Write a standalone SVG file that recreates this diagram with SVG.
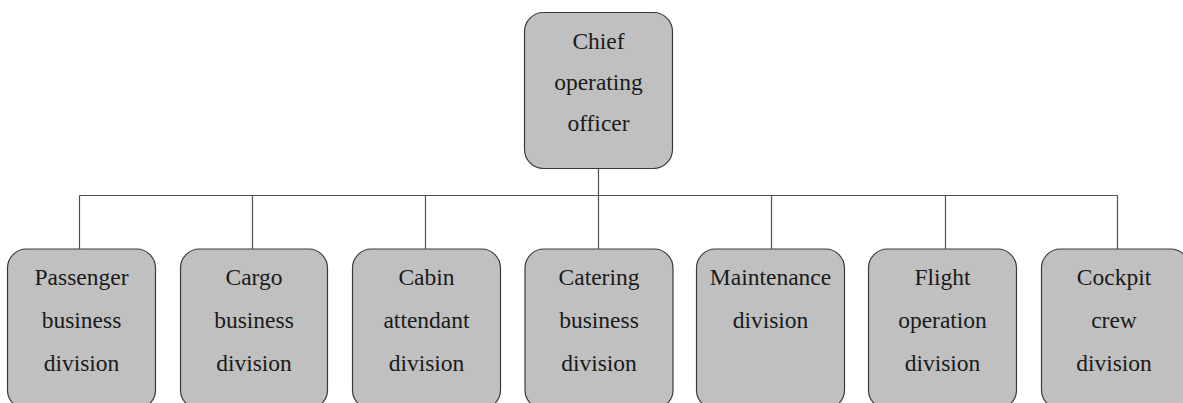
<svg xmlns="http://www.w3.org/2000/svg" width="1183" height="403" viewBox="0 0 1183 403">
  <style>
    .box { fill: #c0c0c0; stroke: #3a3a3a; stroke-width: 1.2; }
    .lbl { font-family: "Liberation Serif", "Times New Roman", serif; font-size: 23.5px; fill: #1a1a1a; text-anchor: middle; }
    .wire { fill: none; stroke: #505050; stroke-width: 1.2; }
  </style>
  <rect width="1183" height="403" fill="#ffffff"/>

  <!-- connectors: trunk from the top box, bus line, and drops to each division -->
  <g id="connectors">
    <path class="wire" d="M598.5 168.5 V195.5"/>
    <path class="wire" d="M79.5 195.5 H1117.5"/>
    <path class="wire" d="M79.5 195.5 V249"/>
    <path class="wire" d="M252.5 195.5 V249"/>
    <path class="wire" d="M425.5 195.5 V249"/>
    <path class="wire" d="M598.5 195.5 V249"/>
    <path class="wire" d="M771.5 195.5 V249"/>
    <path class="wire" d="M945.5 195.5 V249"/>
    <path class="wire" d="M1117.5 195.5 V249"/>
  </g>

  <g id="coo">
    <rect class="box" x="524.5" y="12.5" width="148" height="156" rx="19" ry="19"/>
    <text class="lbl" x="598.5" y="49">Chief</text>
    <text class="lbl" x="598.5" y="90">operating</text>
    <text class="lbl" x="598.5" y="131">officer</text>
  </g>

  <g id="passenger">
    <rect class="box" x="7.5" y="249" width="148" height="160" rx="19" ry="19"/>
    <text class="lbl" x="81.5" y="285">Passenger</text>
    <text class="lbl" x="81.5" y="328">business</text>
    <text class="lbl" x="81.5" y="371">division</text>
  </g>

  <g id="cargo">
    <rect class="box" x="180.5" y="249" width="147" height="160" rx="19" ry="19"/>
    <text class="lbl" x="254" y="285">Cargo</text>
    <text class="lbl" x="254" y="328">business</text>
    <text class="lbl" x="254" y="371">division</text>
  </g>

  <g id="cabin">
    <rect class="box" x="352.5" y="249" width="148" height="160" rx="19" ry="19"/>
    <text class="lbl" x="426.5" y="285">Cabin</text>
    <text class="lbl" x="426.5" y="328">attendant</text>
    <text class="lbl" x="426.5" y="371">division</text>
  </g>

  <g id="catering">
    <rect class="box" x="525" y="249" width="148" height="160" rx="19" ry="19"/>
    <text class="lbl" x="599" y="285">Catering</text>
    <text class="lbl" x="599" y="328">business</text>
    <text class="lbl" x="599" y="371">division</text>
  </g>

  <g id="maintenance">
    <rect class="box" x="696.5" y="249" width="148" height="160" rx="19" ry="19"/>
    <text class="lbl" x="770.5" y="285">Maintenance</text>
    <text class="lbl" x="770.5" y="328">division</text>
  </g>

  <g id="flight">
    <rect class="box" x="868.5" y="249" width="148" height="160" rx="19" ry="19"/>
    <text class="lbl" x="942.5" y="285">Flight</text>
    <text class="lbl" x="942.5" y="328">operation</text>
    <text class="lbl" x="942.5" y="371">division</text>
  </g>

  <g id="cockpit">
    <rect class="box" x="1041.5" y="249" width="148" height="160" rx="19" ry="19"/>
    <text class="lbl" x="1114" y="285">Cockpit</text>
    <text class="lbl" x="1114" y="328">crew</text>
    <text class="lbl" x="1114" y="371">division</text>
  </g>
</svg>
